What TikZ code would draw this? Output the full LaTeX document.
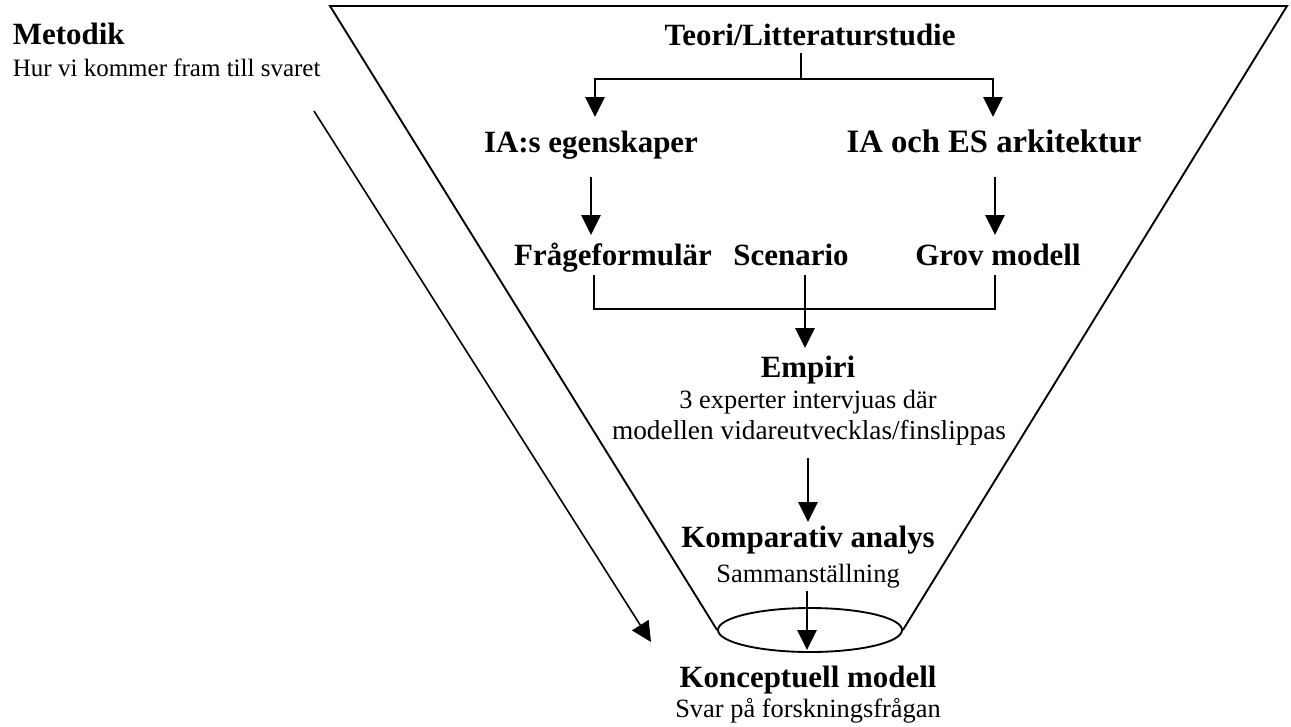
\documentclass[tikz,border=0pt]{standalone}
\usepackage{fontspec}
\setmainfont{Liberation Serif}
\usetikzlibrary{arrows.meta,shapes.geometric}
\begin{document}
\begin{tikzpicture}[x=0.75pt,y=-0.75pt,line width=1.4pt,line join=miter,
  head/.style={font=\bfseries\fontsize{23.2}{27}\selectfont,inner sep=0pt,anchor=base},
  sub/.style={font=\fontsize{19.8}{23}\selectfont,inner sep=0pt,anchor=base},
  flow/.style={-{Triangle[length=15pt,width=14.5pt]}}]
\useasboundingbox (0,0) rectangle (1291,726);

% heading on the left
\node[head,anchor=base west] (metodik) at (12,44) {Metodik};
\node[sub,anchor=base west,font=\fontsize{18.75}{22}\selectfont] (hur) at (12,76) {Hur vi kommer fram till svaret};

% funnel outline with its neck
\node[draw,ellipse,inner sep=0pt,minimum width=138pt,minimum height=33pt] (neck) at (810,630) {};
\coordinate (ftl) at (330,6);
\coordinate (ftr) at (1287,6);
\draw (neck.west) -- (ftl) -- (ftr) -- (neck.east);

% texts inside the funnel
\node[head] (teori) at (810,45) {Teori/Litteraturstudie};
\node[head] (ias) at (591,152) {IA:s egenskaper};
\node[head,font=\bfseries\fontsize{24.5}{28}\selectfont] (iaes) at (994,152) {IA och ES arkitektur};
\node[head] (fraga) at (613,265) {Frågeformulär};
\node[head] (scen) at (791,265) {Scenario};
\node[head] (grov) at (998,265) {Grov modell};
\node[head] (empiri) at (808,377) {Empiri};
\node[sub] (exp1) at (808,408) {3 experter intervjuas där};
\node[sub,font=\fontsize{20.5}{24}\selectfont] (exp2) at (809,439) {modellen vidareutvecklas/finslippas};
\node[head] (komp) at (808,547) {Komparativ analys};
\node[sub] (samm) at (808,582) {Sammanställning};
\node[head] (konc) at (808,687) {Konceptuell modell};
\node[sub] (svar) at (808,717) {Svar på forskningsfrågan};

% split from the literature study
\coordinate (tstem) at (801,53);
\coordinate (tjoin) at (801,79);
\coordinate (iasin) at (595,117);
\coordinate (iaesin) at (993,117);
\draw (tstem) -- (tjoin);
\draw[flow] (tjoin) -| (iasin);
\draw[flow] (tjoin) -| (iaesin);

% down to the instruments
\coordinate (iasout) at (591,177);
\coordinate (fragain) at (591,235);
\coordinate (iaesout) at (995,177);
\coordinate (grovin) at (995,235);
\draw[flow] (iasout) -- (fragain);
\draw[flow] (iaesout) -- (grovin);

% merge into the empirical study
\coordinate (fragaout) at (594,275);
\coordinate (grovout) at (995,275);
\coordinate (mergeL) at (594,309);
\coordinate (scenout) at (805,275);
\coordinate (empin) at (805,348);
\draw (fragaout) -- (mergeL) -| (grovout);
\draw[flow] (scenout) -- (empin);

% remaining steps
\coordinate (empout) at (808,458);
\coordinate (kompin) at (808,522);
\draw[flow] (empout) -- (kompin);
\coordinate (sammout) at (807,591);
\coordinate (neckin) at (807,650);
\draw[flow] (sammout) -- (neckin);

% method arrow on the left
\coordinate (mstart) at (314,111);
\coordinate (mend) at (651,642);
\draw[flow,line width=1.2pt] (mstart) -- (mend);
\end{tikzpicture}
\end{document}
